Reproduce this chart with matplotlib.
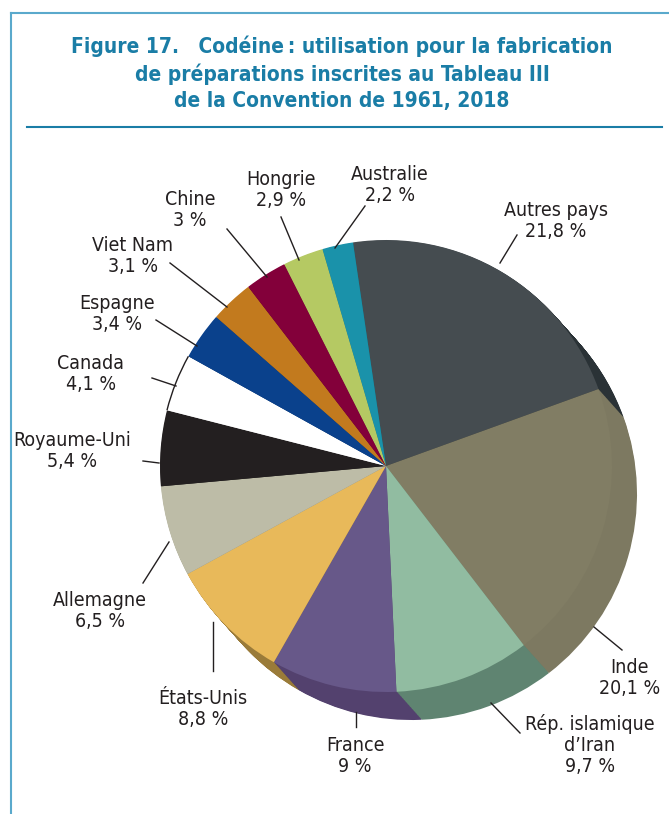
import numpy as np
import matplotlib
matplotlib.use("Agg")
import matplotlib.pyplot as plt
from matplotlib.patches import Arc

plt.rcParams['font.family'] = ['DejaVu Sans']
plt.rcParams['font.stretch'] = 'condensed'

# data
countries = ["Autres pays", "Inde", "Rép. islamique\nd\u2019Iran", "France", "États-Unis",
             "Allemagne", "Royaume-Uni", "Canada", "Espagne", "Viet Nam", "Chine",
             "Hongrie", "Australie"]
shares = [21.8, 20.1, 9.7, 9.0, 8.8, 6.5, 5.4, 4.1, 3.4, 3.1, 3.0, 2.9, 2.2]
share_labels = ["21,8 %", "20,1 %", "9,7 %", "9 %", "8,8 %", "6,5 %", "5,4 %",
                "4,1 %", "3,4 %", "3,1 %", "3 %", "2,9 %", "2,2 %"]
top_colors = ["#454c50", "#817d64", "#91bca1", "#675889", "#e8b95a", "#bdbca7",
              "#231f20", "#ffffff", "#0a418c", "#c27a1e", "#83003a", "#b5c963",
              "#1a92aa"]
side_colors = ["#2a3236", "#7d7961", "#5f8471", "#53416e", "#9a7b39", "#8e8c7a",
               "#1a1718", "#d0d0d0", "#072f66", "#8f5916", "#5e0029", "#85944a",
               "#136b7d"]

# label text centres and leader lines, in pixels from the top-left
label_xy = [(556, 221), (630, 678), (590, 745), (355, 756), (203, 709),
            (100, 611), (72, 451), (91, 374), (117, 314), (133, 256), (190, 210),
            (281, 190), (390, 185)]
leaders = [((517, 235), (500, 263)), ((594, 627), (622, 650)), ((491, 703), (520, 733)),
           ((356, 712), (356, 727)), ((213, 622), (213, 671)), ((169, 542), (143, 583)),
           ((143, 461), (159, 463)), ((152, 378), (176, 386)), ((156, 320), (197, 346)),
           ((170, 263), (227, 307)), ((227, 229), (267, 277)), ((281, 217), (299, 260)),
           ((365, 206), (335, 248))]

W, H = 669, 814
fig = plt.figure(figsize=(W / 100, H / 100), dpi=100)
ax = fig.add_axes([0, 0, 1, 1])

cx, cy, r = 386, H - 466, 226
dx, dy = 25, 28  # depth of the tilted pie
steps = 40
for t in np.linspace(1, 0.02, steps):
    ax.pie(shares, colors=side_colors, startangle=98.4, counterclock=False,
           center=(cx + dx * t, cy - dy * t), radius=r,
           wedgeprops=dict(linewidth=0, antialiased=True))
wedges, _ = ax.pie(shares, colors=top_colors, startangle=98.4, counterclock=False,
                   center=(cx, cy), radius=r,
                   wedgeprops=dict(linewidth=0, antialiased=True))

# thin outline on the white slice
w = wedges[7]
ax.add_patch(Arc((cx, cy), 2 * r, 2 * r, theta1=w.theta1, theta2=w.theta2,
                 color="#231f20", lw=1.0, zorder=5))

for name, pct, (lx, ly), ((x0, y0), (x1, y1)) in zip(countries, share_labels,
                                                     label_xy, leaders):
    ax.text(lx, H - ly, name + "\n" + pct, ha="center", va="center",
            fontsize=14, color="#231f20", linespacing=1.15)
    ax.plot([x0, x1], [H - y0, H - y1], color="#231f20", lw=1.0)

# title and frame
title_col = "#1a7da6"
ax.text(342, H - 73, "Figure 17.   Codéine\u2009: utilisation pour la fabrication\n"
        "de préparations inscrites au Tableau III\nde la Convention de 1961, 2018",
        ha="center", va="center", fontsize=15, fontweight="bold", color=title_col,
        linespacing=1.38)
ax.plot([11, W], [H - 13, H - 13], color="#5aa9cc", lw=1.5)
ax.plot([11, 11], [H - 13, 0], color="#5aa9cc", lw=1.5)
ax.plot([27, 662], [H - 127, H - 127], color=title_col, lw=1.5)

ax.set_xlim(0, W)
ax.set_ylim(0, H)
ax.set_aspect("auto")
ax.axis("off")

fig.savefig("out.png", dpi=100)
